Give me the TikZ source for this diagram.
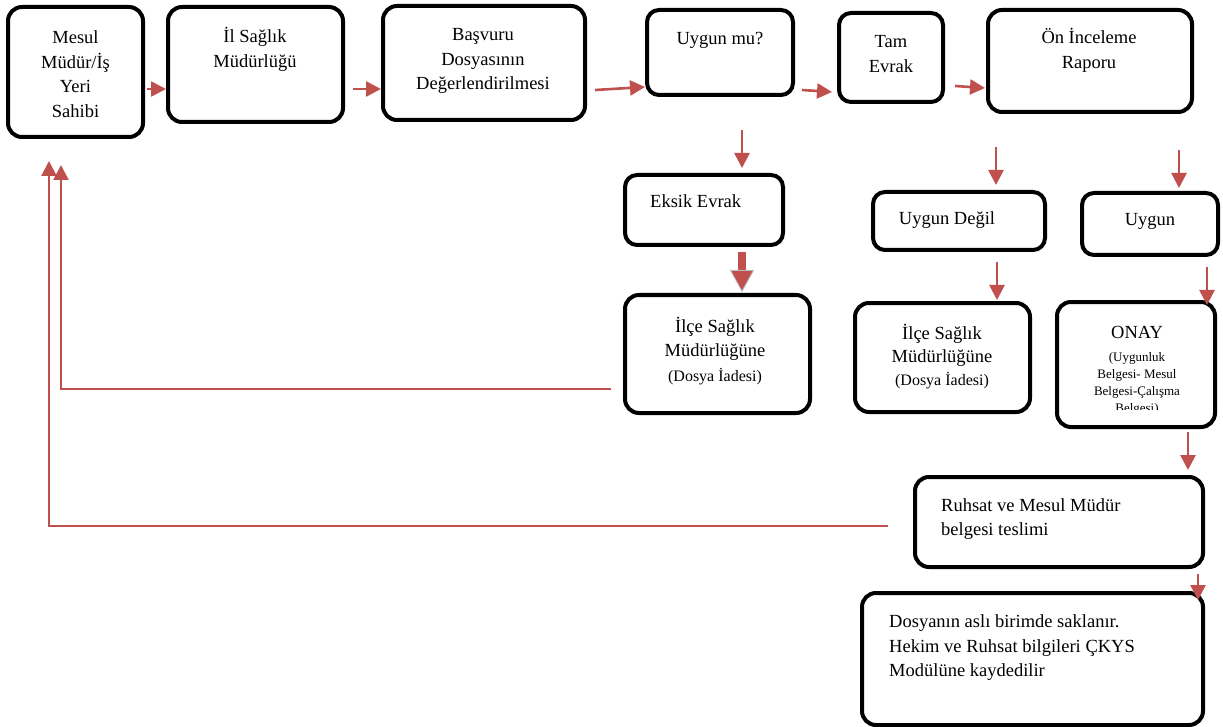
\documentclass[tikz,border=0pt]{standalone}
\usepackage{fontspec}
\setmainfont{Liberation Serif}
\usetikzlibrary{arrows.meta,fit}
\definecolor{flowred}{RGB}{192,80,77}

\begin{document}
\begin{tikzpicture}[x=1pt,y=-1pt,
  box/.style={draw=black, line width=4pt, rounded corners=14pt, inner sep=0pt},
  txt/.style={font=\fontsize{18.5}{24.5}\selectfont, align=center, inner sep=0pt},
  txtl/.style={txt, align=left, anchor=west},
  small/.style={font=\fontsize{13}{17}\selectfont, align=center, inner sep=0pt},
  flow/.style={draw=flowred, line width=2.6pt, -{Triangle[length=15pt,width=15pt]}},
  back/.style={flow, line width=2.2pt},
  bigflow/.style={draw=flowred, line width=8pt,
    -{Triangle[length=22pt,width=24pt,fill=flowred,color=gray!55,line width=0.8pt]}}]

% page
\fill[white] (0,0) rectangle (1223,727);
\useasboundingbox (0,0) rectangle (1223,727);

% boxes
\node[box, fit={(8,7) (143,137)}] (mesul) {};
\node[box, fit={(168,7) (343,122)}] (il) {};
\node[box, fit={(383,6) (585,120)}] (basvuru) {};
\node[box, rounded corners=12pt, fit={(647,10) (793,95)}] (uygunmu) {};
\node[box, rounded corners=12pt, fit={(839,13) (943,102)}] (tam) {};
\node[box, fit={(988,10) (1192,112)}] (onrapor) {};
\node[box, rounded corners=12pt, fit={(625,175) (783,245)}] (eksik) {};
\node[box, fit={(625,295) (810,413)}] (ilce1) {};
\node[box, rounded corners=12pt, fit={(873,192) (1045,250)}] (degil) {};
\node[box, rounded corners=12pt, fit={(1082,193) (1218,255)}] (uygun) {};
\node[box, fit={(855,303) (1030,412)}] (ilce2) {};
\node[box, fit={(1057,302) (1215,427)}] (onay) {};
\node[box, fit={(915,477) (1203,567)}] (ruhsat) {};
\node[box, fit={(862,593) (1203,725)}] (dosya) {};

% texts
\node[txt] (mesul-t) at (75.5,74) {Mesul\\Müdür/İş\\Yeri\\Sahibi};
\node[txt] (il-t) at (255,49.5) {İl Sağlık\\Müdürlüğü};
\node[txt] (basvuru-t) at (483,61) {Başvuru\\Dosyasının\\Değerlendirilmesi};
\node[txt, anchor=base] (uygunmu-t) at (720,45) {Uygun mu?};
\node[txt] (tam-t) at (891,54) {Tam\\Evrak};
\node[txt] (onrapor-t) at (1089,50.5) {Ön İnceleme\\Raporu};
\node[txt, anchor=base west] (eksik-t) at (650,208) {Eksik Evrak};
\node[txt] (ilce1-t) at (715,351) {İlçe Sağlık\\Müdürlüğüne\\{\fontsize{16}{24.5}\selectfont (Dosya İadesi)}};
\node[txt, anchor=base] (degil-t) at (947,225) {Uygun Değil};
\node[txt, anchor=base] (uygun-t) at (1150,226) {Uygun};
\node[txt, font=\fontsize{18.5}{23}\selectfont] (ilce2-t) at (942,356.5) {İlçe Sağlık\\Müdürlüğüne\\{\fontsize{16}{23}\selectfont (Dosya İadesi)}};
\node[txt, anchor=base] (onay-t) at (1137,338) {ONAY};
\begin{scope}
  \clip (1057,300) rectangle (1215,409);
  \node[small] (onay-s) at (1137,384) {(Uygunluk\\Belgesi- Mesul\\Belgesi-Çalışma\\Belgesi)};
\end{scope}
\node[txtl] (ruhsat-t) at (941,519) {Ruhsat ve Mesul Müdür\\belgesi teslimi};
\node[txtl] (dosya-t) at (889,648) {Dosyanın aslı birimde saklanır.\\Hekim ve Ruhsat bilgileri ÇKYS\\Modülüne kaydedilir};

% connectors along the main row
\draw[flow] ([shift={(2,17)}]mesul.east) -- ([shift={(0,24.5)}]il.west);
\draw[flow] ([shift={(8,24.5)}]il.east) -- ([shift={(0,26)}]basvuru.west);
\draw[flow] ([shift={(8,27)}]basvuru.east) -- ([shift={(0,34.5)}]uygunmu.west);
\draw[flow] ([shift={(7,37.5)}]uygunmu.east) -- ([shift={(-5,34.5)}]tam.west);
\draw[flow] ([shift={(10,28.5)}]tam.east) -- ([shift={(-1,27)}]onrapor.west);

% branches
\draw[flow] ([shift={(22,33)}]uygunmu.south) -- ([shift={(38,-5)}]eksik.north);
\draw[bigflow] ([shift={(38,5)}]eksik.south) -- ([shift={(24.5,-1)}]ilce1.north);
\draw[flow] ([shift={(-94,33)}]onrapor.south) -- ([shift={(37,-5)}]degil.north);
\draw[flow] ([shift={(89,36)}]onrapor.south) -- ([shift={(29,-3)}]uygun.north);
\draw[flow] ([shift={(38,10)}]degil.south) -- ([shift={(54.5,-1)}]ilce2.north);
\draw[flow] ([shift={(57,10)}]uygun.south) -- ([shift={(71,5)}]onay.north);
\draw[flow] ([shift={(52,3)}]onay.south) -- ([shift={(129,-5)}]ruhsat.north);
\draw[flow] ([shift={(139,5)}]ruhsat.south) -- ([shift={(165.5,9)}]dosya.north);

% returns to the applicant
\draw[back] ([shift={(-12,35)}]ilce1.west) -| ([shift={(-14.5,26)}]mesul.south);
\draw[back] ([shift={(-25,4)}]ruhsat.west) -| ([shift={(-26.5,22)}]mesul.south);
\end{tikzpicture}
\end{document}
